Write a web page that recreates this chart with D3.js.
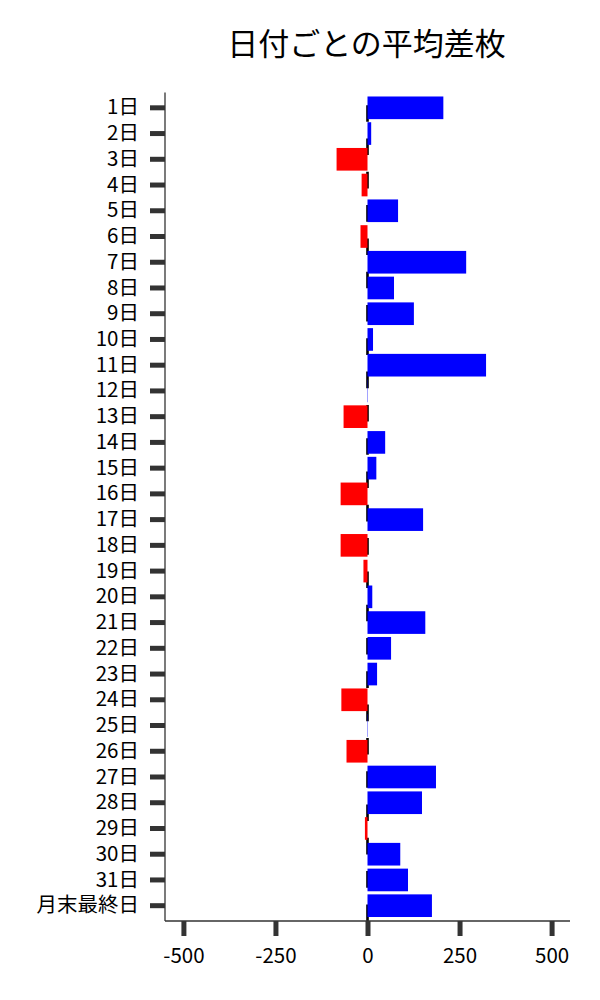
<!DOCTYPE html>
<html>
<head>
<meta charset="utf-8">
<script src="https://cdn.jsdelivr.net/npm/d3@7"></script>
<style>
    body { margin: 0; background: #fff; }
    text { font-family: 'Noto Sans CJK JP', 'Noto Sans', sans-serif; }
</style>
</head>
<body>
<svg id="chart"></svg>
<script>
// Categories and average difference per day.
const days = [
    '1日', '2日', '3日', '4日', '5日', '6日', '7日', '8日', '9日', '10日',
    '11日', '12日', '13日', '14日', '15日', '16日', '17日', '18日', '19日', '20日',
    '21日', '22日', '23日', '24日', '25日', '26日', '27日', '28日', '29日', '30日',
    '31日', '月末最終日',
];
const avgDiff = [
    206, 10, -84, -16, 83, -19, 268, 72, 126, 15,
    322, 1, -65, 48, 24, -73, 151, -73, -11, 13,
    157, 64, 26, -71, 1, -57, 186, 148, -7, 89,
    110, 175,
];
const xTicks = [-500, -250, 0, 250, 500];
const xDomain = [-550, 550];

const width = 600;
const height = 1000;
const marginTop = 92.5;
const marginBottom = 79;
const marginLeft = 165;
const marginRight = 30;
const axisColor = '#333';

const svg = d3.select('#chart').attr('width', width).attr('height', height);

// Scales.
const x = d3.scaleLinear().domain(xDomain).range([marginLeft, width - marginRight]);
const y = d3
    .scaleBand()
    .domain(days)
    .range([marginTop, height - marginBottom])
    .paddingInner(0.12)
    .paddingOuter(0.155);

// Title.
svg.append('text')
    .attr('x', 366.5)
    .attr('y', 55)
    .attr('text-anchor', 'middle')
    .attr('font-size', 31)
    .attr('fill', '#000')
    .text('日付ごとの平均差枚');

// Dashed zero line, drawn behind the bars from the bottom up.
svg.append('line')
    .attr('x1', x(0))
    .attr('x2', x(0))
    .attr('y1', height - marginBottom)
    .attr('y2', marginTop)
    .attr('stroke', '#000')
    .attr('stroke-width', 2.6)
    .attr('stroke-dasharray', '16.6 16.7');

// Bars.
svg.append('g')
    .selectAll('rect')
    .data(days)
    .join('rect')
    .attr('x', (d, i) => x(Math.min(0, avgDiff[i])))
    .attr('y', d => y(d))
    .attr('width', (d, i) => Math.abs(x(avgDiff[i]) - x(0)))
    .attr('height', y.bandwidth())
    .attr('fill', (d, i) => (avgDiff[i] >= 0 ? '#0000ff' : '#ff0000'));

// Y axis.
const yAxis = svg.append('g')
    .attr('transform', `translate(${marginLeft}, 0)`)
    .call(d3.axisLeft(y).tickSize(15).tickPadding(11));
yAxis.select('.domain').attr('stroke', axisColor).attr('stroke-width', 1.3).attr('d', `M0,${marginTop}V${height - marginBottom}`);
yAxis.selectAll('.tick line').attr('stroke', axisColor).attr('stroke-width', 5);
yAxis.selectAll('.tick text').attr('font-size', 20.5).attr('fill', '#000').attr('font-family', "'Noto Sans CJK JP', sans-serif");

// X axis.
const xAxis = svg.append('g')
    .attr('transform', `translate(0, ${height - marginBottom})`)
    .call(d3.axisBottom(x).tickValues(xTicks).tickFormat(d => String(d)).tickSize(15).tickPadding(12));
xAxis.select('.domain').attr('stroke', axisColor).attr('stroke-width', 1.3).attr('d', `M${marginLeft},0H${width - marginRight}`);
xAxis.selectAll('.tick line').attr('stroke', axisColor).attr('stroke-width', 5);
xAxis.selectAll('.tick text').attr('font-size', 20.5).attr('fill', '#000').attr('font-family', "'Noto Sans CJK JP', sans-serif");
</script>
</body>
</html>
